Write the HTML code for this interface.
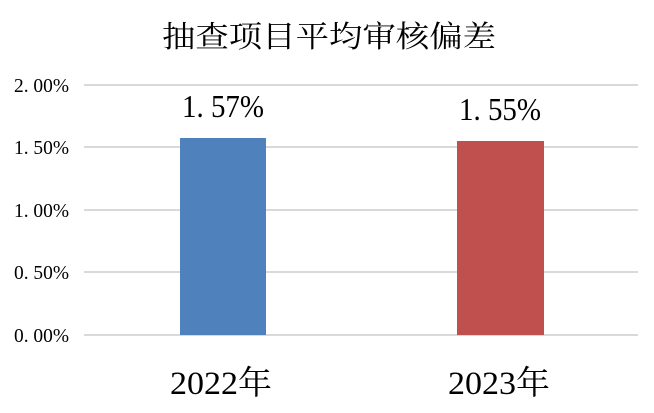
<!DOCTYPE html>
<html><head><meta charset="utf-8"><style>body{margin:0;background:#fff}svg{display:block}</style></head>
<body>
<svg width="654" height="413" xmlns="http://www.w3.org/2000/svg" font-family="'Liberation Serif','Noto Serif CJK SC',serif" fill="#000">
<rect width="654" height="413" fill="#fff"/>
<text x="162" y="47" font-size="30" textLength="334" lengthAdjust="spacingAndGlyphs" font-family="'Noto Serif CJK SC','Noto Sans CJK SC',serif">抽查项目平均审核偏差</text>
<g stroke="#d9d9d9" stroke-width="2">
<line x1="84" y1="85" x2="638" y2="85"/>
<line x1="84" y1="147" x2="638" y2="147"/>
<line x1="84" y1="210" x2="638" y2="210"/>
<line x1="84" y1="272" x2="638" y2="272"/>
<line x1="84" y1="335" x2="638" y2="335"/>
</g>
<g font-size="20">
<text x="14" y="92" textLength="55" lengthAdjust="spacingAndGlyphs">2. 00%</text>
<text x="14" y="154" textLength="55" lengthAdjust="spacingAndGlyphs">1. 50%</text>
<text x="14" y="217" textLength="55" lengthAdjust="spacingAndGlyphs">1. 00%</text>
<text x="14" y="279" textLength="55" lengthAdjust="spacingAndGlyphs">0. 50%</text>
<text x="14" y="342" textLength="55" lengthAdjust="spacingAndGlyphs">0. 00%</text>
</g>
<rect x="180" y="138" width="86" height="197" fill="#4f81bd"/>
<rect x="457" y="141" width="87" height="194" fill="#c0504d"/>
<g font-size="32">
<text x="182" y="117" textLength="82" lengthAdjust="spacingAndGlyphs">1. 57%</text>
<text x="459" y="120" textLength="82" lengthAdjust="spacingAndGlyphs">1. 55%</text>
</g>
<g font-size="33">
<text x="170" y="394" textLength="102" lengthAdjust="spacingAndGlyphs">2022年</text>
<text x="448" y="394" textLength="102" lengthAdjust="spacingAndGlyphs">2023年</text>
</g>
</svg>
</body></html>
